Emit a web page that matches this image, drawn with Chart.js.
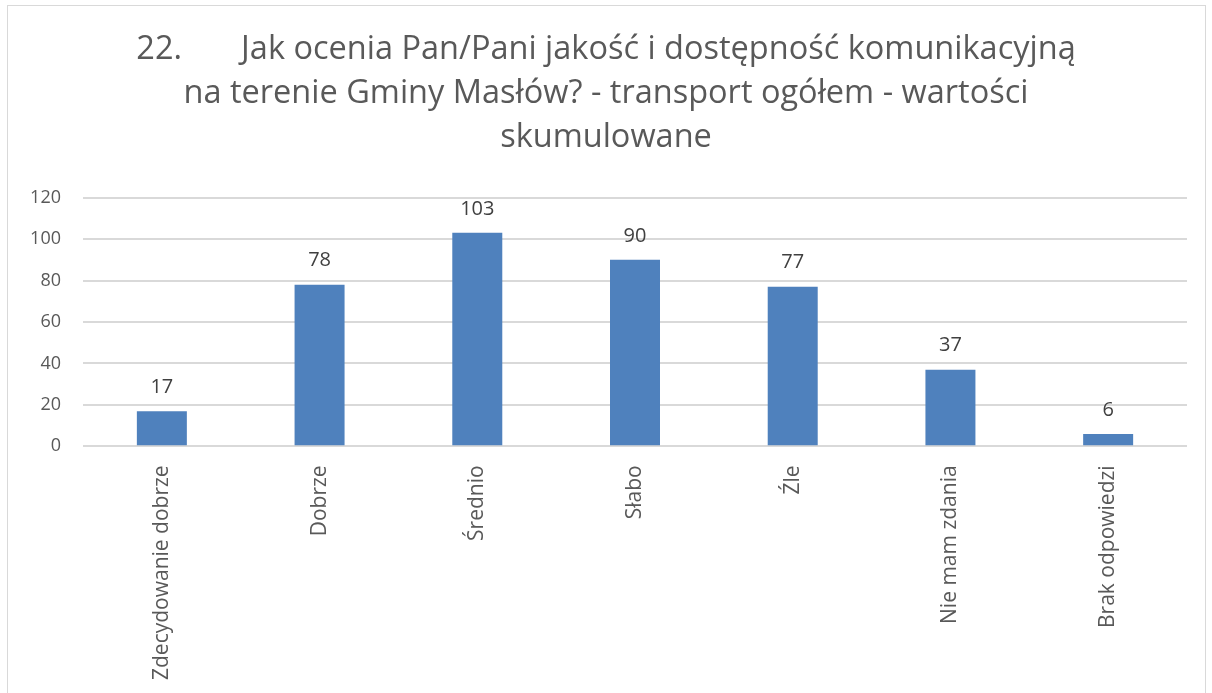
<!DOCTYPE html>
<html lang="pl">
<head>
  <meta charset="UTF-8">
  <title>Transport ogółem</title>
  <script src="https://cdn.jsdelivr.net/npm/chart.js"></script>
  <style>
    body { margin: 0; background: #fff; }
    #frame { position: absolute; left: 7px; top: 5px; width: 1197px; height: 700px; border: 1px solid #d9d9d9; }
    #wrap { position: absolute; left: 0; top: 0; width: 1212px; height: 693px; }
  </style>
</head>
<body>
  <div id="frame"></div>
  <div id="wrap"><canvas id="myChart"></canvas></div>

  <script>
    const categories = ['Zdecydowanie dobrze', 'Dobrze', 'Średnio', 'Słabo', 'Źle', 'Nie mam zdania', 'Brak odpowiedzi'];
    const values = [17, 78, 103, 90, 77, 37, 6];
    const titleLines = [
      '22.       Jak ocenia Pan/Pani jakość i dostępność komunikacyjną',
      'na terenie Gminy Masłów? - transport ogółem - wartości',
      'skumulowane'
    ];

    // etykiety wartości nad słupkami
    const valueLabels = {
      id: 'valueLabels',
      afterDatasetsDraw(chart) {
        const ctx = chart.ctx;
        ctx.save();
        ctx.font = '20px "Open Sans", sans-serif';
        ctx.fillStyle = '#404040';
        ctx.textAlign = 'center';
        ctx.textBaseline = 'bottom';
        chart.getDatasetMeta(0).data.forEach((bar, i) => {
          ctx.fillText(values[i], bar.x, bar.y - 14);
        });
        ctx.restore();
      }
    };

    const ctx = document.getElementById('myChart').getContext('2d');
    new Chart(ctx, {
      type: 'bar',
      data: {
        labels: categories,
        datasets: [{
          data: values,
          backgroundColor: '#4f81bd',
          categoryPercentage: 1,
          barPercentage: 0.317
        }]
      },
      options: {
        responsive: true,
        maintainAspectRatio: false,
        animation: false,
        layout: { padding: { left: 25, right: 25, top: 28, bottom: 2 } },
        plugins: {
          legend: { display: false },
          tooltip: { enabled: false },
          title: {
            display: true,
            text: titleLines,
            color: '#595959',
            font: { family: '"Open Sans", sans-serif', size: 32.5, weight: 'normal', lineHeight: 1.35 },
            padding: { top: 0, bottom: 38 }
          }
        },
        scales: {
          x: {
            grid: { display: false },
            border: { display: false },
            ticks: {
              color: '#595959',
              font: { family: '"Open Sans", sans-serif', size: 21 },
              minRotation: 90,
              maxRotation: 90,
              padding: 11
            }
          },
          y: {
            min: 0,
            max: 120,
            afterFit(scale) { scale.width = 58; },
            grid: { color: '#d9d9d9', lineWidth: 2, drawTicks: false },
            border: { display: false },
            ticks: {
              stepSize: 20,
              color: '#595959',
              font: { family: '"Open Sans", sans-serif', size: 18 },
              padding: 22
            }
          }
        }
      },
      plugins: [valueLabels]
    });
  </script>
</body>
</html>
